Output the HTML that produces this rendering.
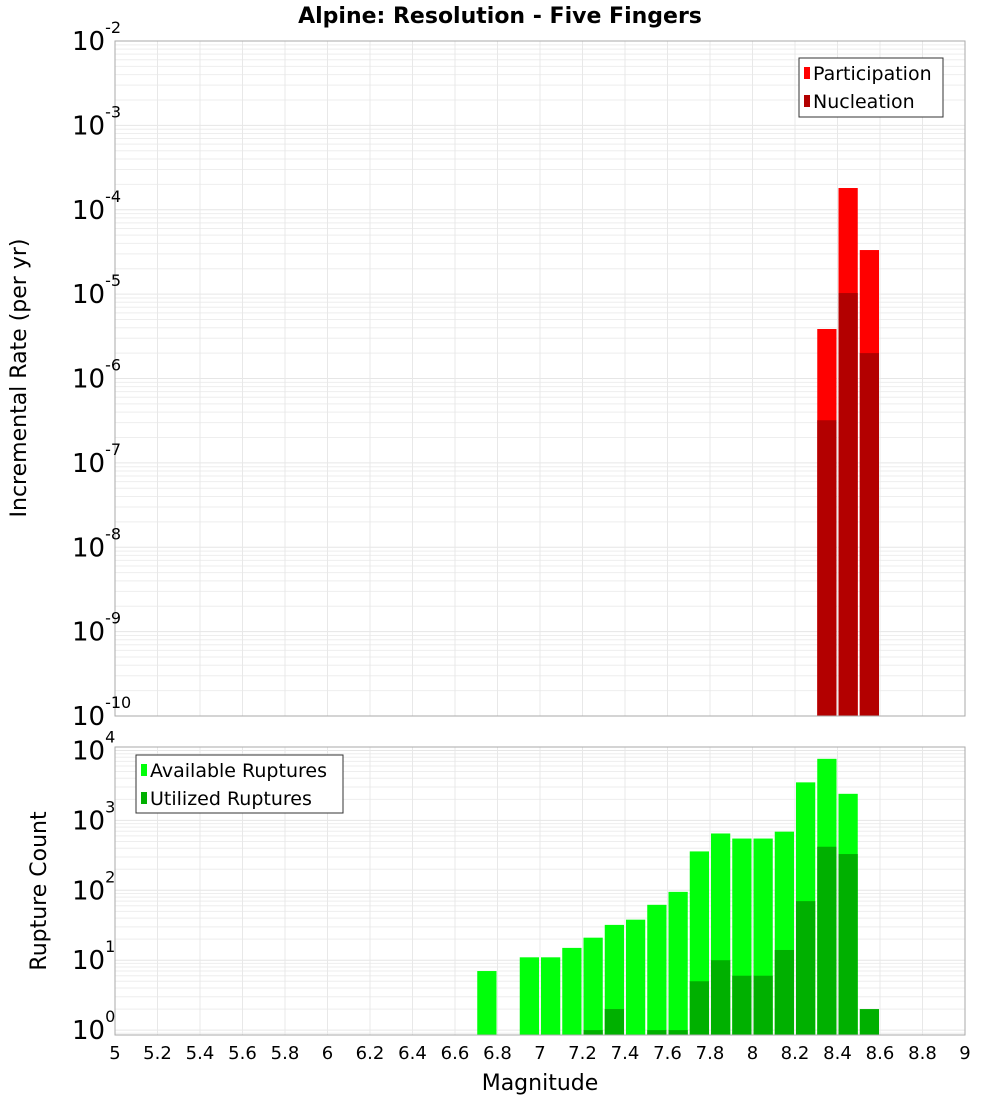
<!DOCTYPE html>
<html><head><meta charset="utf-8"><style>
body{margin:0;background:#fff;}
svg{display:block;font-family:"DejaVu Sans","Liberation Sans",sans-serif;}
</style></head><body>
<svg id="c" width="1000" height="1100"></svg>
<script>
const binCenters=[6.75,6.85,6.95,7.05,7.15,7.25,7.35,7.45,7.55,7.65,7.75,7.85,7.95,8.05,8.15,8.25,8.35,8.45,8.55];
const availableRuptures=[7,0,11,11,15,21,32,38,62,95,360,650,550,550,690,3500,7600,2400,0];
const utilizedRuptures=[0,0,0,0,0,1,2,0,1,1,5,10,6,6,14,70,420,330,2];
const rateMags=[8.35,8.45,8.55];
const participationRates=[3.86e-6,1.81e-4,3.33e-5];
const nucleationRates=[3.2e-7,1.03e-5,2.0e-6];
const xTicks=[5,5.2,5.4,5.6,5.8,6,6.2,6.4,6.6,6.8,7,7.2,7.4,7.6,7.8,8,8.2,8.4,8.6,8.8,9];
const topExps=[-2,-3,-4,-5,-6,-7,-8,-9,-10];
const botExps=[4,3,2,1,0];

const svg=document.getElementById('c');
const NS='http://www.w3.org/2000/svg';
function mk(tag,attrs,parent){const e=document.createElementNS(NS,tag);for(const k in attrs)e.setAttribute(k,attrs[k]);(parent||svg).appendChild(e);return e;}
const X0=115,X1=965;
const xs=m=>X0+(m-5)/4*(X1-X0);
const T0=41,T1=716;
const yTop=v=>T0+(-2-Math.log10(v))/8*(T1-T0);
const B0=747,B1=1035,BLmax=4.05,BLmin=-0.07;
const yBot=v=>B0+(BLmax-Math.log10(v))/(BLmax-BLmin)*(B1-B0);

function grid(y0,y1,lmin,lmax,yf,name){
  const g=mk('g',{});
  
  
  for(let e=Math.floor(lmin);e<=Math.ceil(lmax);e++){
    for(let k=1;k<10;k++){const v=k*Math.pow(10,e);const l=Math.log10(v);if(l<lmin||l>lmax)continue;
      mk('line',{x1:X0,x2:X1,y1:yf(v),y2:yf(v),stroke:k==1?'#e6e6e6':'#eeeeee','stroke-width':1},g);}
  }
  xTicks.forEach(t=>mk('line',{x1:xs(t),x2:xs(t),y1:y0,y2:y1,stroke:'#e8e8e8','stroke-width':1},g));
}
grid(T0,T1,-10,-2,yTop,'top-grid');
grid(B0,B1,BLmin,BLmax,yBot,'bottom-grid');

const bw=(xs(5.1)-xs(5))-2;
const tb=mk('g',{});
rateMags.forEach((m,i)=>{
  const x=xs(m)-bw/2;
  let r=mk('rect',{x:x,y:yTop(participationRates[i]),width:bw,height:T1-yTop(participationRates[i]),fill:'#ff0000'},tb);
  
  r=mk('rect',{x:x,y:yTop(nucleationRates[i]),width:bw,height:T1-yTop(nucleationRates[i]),fill:'#b30000'},tb);
  
});
const bb=mk('g',{});
binCenters.forEach((m,i)=>{
  const x=xs(m)-bw/2;
  if(availableRuptures[i]>0){const r=mk('rect',{x:x,y:yBot(availableRuptures[i]),width:bw,height:B1-yBot(availableRuptures[i]),fill:'#00ff0a'},bb);
    }
  if(utilizedRuptures[i]>0){const r=mk('rect',{x:x,y:yBot(utilizedRuptures[i]),width:bw,height:B1-yBot(utilizedRuptures[i]),fill:'#00b000'},bb);
    }
});

let f=mk('rect',{x:X0,y:T0,width:X1-X0,height:T1-T0,fill:'none',stroke:'#aaaaaa','stroke-width':1});

f=mk('rect',{x:X0,y:B0,width:X1-X0,height:B1-B0,fill:'none',stroke:'#aaaaaa','stroke-width':1});


function ylab(exp,y,name){
  const t=mk('text',{x:108,y:y+9,'text-anchor':'end','font-size':26,fill:'#000'});
  
  const a=mk('tspan',{},t);a.textContent='10';
  const b=mk('tspan',{'font-size':16,dy:-17},t);b.textContent=String(exp).replace('-','-');
  t.setAttribute('text-anchor','start');
  t.setAttribute('x',72);
}
topExps.forEach(e=>ylab(e,yTop(Math.pow(10,e)),'top-y-tick-label'));
botExps.forEach(e=>ylab(e,yBot(Math.pow(10,e)),'bottom-y-tick-label'));
xTicks.forEach(t=>{const e=mk('text',{x:xs(t),y:1059,'text-anchor':'middle','font-size':18,fill:'#000'});e.textContent=String(t);
  });

function legend(x,y,w,h,items,name){
  const g=mk('g',{});
  mk('rect',{x:x,y:y,width:w,height:h,fill:'#fff',stroke:'#333','stroke-width':1},g);
  items.forEach((it,i)=>{
    const cy=y+15+i*28;
    mk('rect',{x:x+5,y:cy-6,width:6,height:12,fill:it[1]},g);
    const t=mk('text',{x:x+14,y:cy+7,'font-size':19,fill:'#000'},g);t.textContent=it[0];
    
  });
}
legend(799,58,144,59,[['Participation','#ff0000'],['Nucleation','#b30000']],'rate-legend');
legend(136,755,207,58,[['Available Ruptures','#00ff0a'],['Utilized Ruptures','#00b000']],'rupture-legend');

let t=mk('text',{x:500,y:23,'text-anchor':'middle','font-size':22,'font-weight':'bold',fill:'#000'});t.textContent='Alpine: Resolution - Five Fingers';

t=mk('text',{x:540,y:1090,'text-anchor':'middle','font-size':22,fill:'#000'});t.textContent='Magnitude';

t=mk('text',{x:0,y:0,'text-anchor':'middle','font-size':22,fill:'#000',transform:'translate(26,378) rotate(-90)'});t.textContent='Incremental Rate (per yr)';

t=mk('text',{x:0,y:0,'text-anchor':'middle','font-size':22,fill:'#000',transform:'translate(46,891) rotate(-90)'});t.textContent='Rupture Count';

</script>
</body></html>
